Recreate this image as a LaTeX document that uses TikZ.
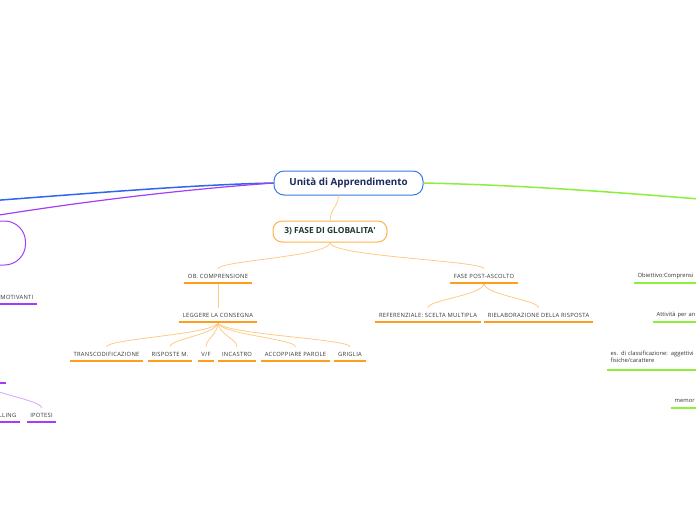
\documentclass[tikz,border=0pt]{standalone}
\usepackage{fontspec}
\setmainfont{Open Sans}
\usetikzlibrary{positioning, calc}

\definecolor{rootblue}{HTML}{3A78E2}
\definecolor{linkblue}{HTML}{2F66F0}
\definecolor{navy}{HTML}{1C2B5C}
\definecolor{orng}{HTML}{FF9E1E}
\definecolor{orngl}{HTML}{FFCA85}
\definecolor{leafgreen}{HTML}{8CEF3A}
\definecolor{violet}{HTML}{A63DF6}
\definecolor{violetl}{HTML}{D9A3FF}
\definecolor{pine}{HTML}{1F3A2C}

\begin{document}
\begin{tikzpicture}[
  x=1pt, y=-1pt,
  root/.style  = {draw=rootblue, fill=white, line width=1pt, rounded corners=10pt,
                  minimum width=149pt, minimum height=24pt, inner sep=0pt,
                  font=\fontsize{9.8}{11}\selectfont\bfseries, text=navy},
  phase/.style = {draw=orng!80, fill=white, line width=1pt, rounded corners=9pt,
                  minimum width=114pt, minimum height=21pt, inner sep=0pt,
                  font=\fontsize{8.4}{9}\selectfont\bfseries, text=pine},
  leaf/.style  = {font=\fontsize{5.8}{7}\selectfont\addfontfeature{LetterSpace=5},
                  text=black!80, inner xsep=3.5pt, inner ysep=0pt, minimum height=14pt},
  gleaf/.style = {leaf, font=\fontsize{5.8}{7.2}\selectfont, text width=100pt,
                  align=left, anchor=west},
  vbox/.style  = {draw=violet, line width=1pt, rounded corners=21pt,
                  minimum width=120pt, minimum height=44pt},
  oline/.style = {draw=orng, line width=2pt},
  vline/.style = {draw=violet, line width=2pt},
  gline/.style = {draw=leafgreen, line width=2pt},
  olink/.style = {draw=orngl, line width=0.8pt},
  vlink/.style = {draw=violetl, line width=0.8pt},
]
  \useasboundingbox (0,0) rectangle (696,520);
  \clip (0,0) rectangle (696,520);

  % main branches
  \node[root] (root) at (348.5,183) {Unità di Apprendimento};
  \coordinate (blueEnd)  at (-80,206);
  \coordinate (greenEnd) at (770,205);
  \node[vbox, anchor=east] (motiv) at (26,243) {};

  \draw[linkblue, line width=1.5pt] (root.west) .. controls (180,185) and (60,196) .. (blueEnd);
  \draw[violet, line width=1.2pt] (root.west) .. controls (150,192) and (40,208) .. (motiv.north);
  \draw[leafgreen, line width=1.5pt] (root.east) .. controls (520,185) and (620,192) .. (greenEnd);

  % orange branch
  \node[phase] (glob) at (330,231.5) {3) FASE DI GLOBALITA\textquotesingle};

  \node[leaf] (obc)  at (218,276) {OB. COMPRENSIONE};
  \node[leaf] (post) at (484,276) {FASE POST-ASCOLTO};
  \node[leaf] (legg) at (218,315) {LEGGERE LA CONSEGNA};
  \node[leaf] (ref)  at (428,315) {REFERENZIALE: SCELTA MULTIPLA};
  \node[leaf] (riel) at (538.5,315) {RIELABORAZIONE DELLA RISPOSTA};

  \node[leaf] (trans) at (106.5,354) {TRANSCODIFICAZIONE};
  \node[leaf] (risp)  at (170,354)   {RISPOSTE M.};
  \node[leaf] (vf)    at (206,354)   {V/F};
  \node[leaf] (inc)   at (237,354)   {INCASTRO};
  \node[leaf] (acc)   at (295.5,354) {ACCOPPIARE PAROLE};
  \node[leaf] (grig)  at (350,354)   {GRIGLIA};

  \draw[olink] ([xshift=-10pt]root.south) .. controls +(0,10) and +(0,-10) .. (glob.north);
  \draw[olink] (glob.south) .. controls +(0,14) and +(0,-8) .. (obc.north);
  \draw[olink] (glob.south) .. controls +(0,14) and +(0,-8) .. (post.north);
  \draw[olink] (obc.south) -- (legg.north);
  \foreach \c in {trans, risp, vf, inc, acc, grig}
    \draw[olink] (legg.south) .. controls +(0,12) and +(0,-8) .. (\c.north);
  \foreach \c in {ref, riel}
    \draw[olink] (post.south) .. controls +(0,12) and +(0,-8) .. (\c.north);

  \foreach \n in {obc, post, legg, ref, riel, trans, risp, vf, inc, acc, grig}
    \draw[oline] (\n.south west) -- (\n.south east);

  % violet branch
  \node[leaf, text width=60pt, align=right, anchor=east] (motivanti) at (37,297) {MOTIVANTI};
  \node[leaf, minimum width=40pt, anchor=east] (hyp) at (6,376) {};
  \node[leaf, text width=40pt, align=right, anchor=east] (lling) at (20,415) {LLING};
  \node[leaf] (ipotesi) at (41.5,415) {IPOTESI};

  \draw[vlink] (hyp.south) .. controls +(0,10) and +(0,-8) .. (lling.north);
  \draw[vlink] (hyp.south) .. controls +(0,10) and +(0,-8) .. (ipotesi.north);

  \foreach \n in {motivanti, hyp, lling, ipotesi}
    \draw[vline] (\n.south west) -- (\n.south east);

  % green branch
  \node[gleaf] (obiet) at (634,276) {Obiettivo:Comprensi};
  \node[gleaf] (attiv) at (653,315) {Attività per an};
  \node[gleaf, minimum height=26pt] (esclass) at (607,357)
    {es. di classificazione: aggettivi\\fisiche/carattere};
  \node[gleaf] (memor) at (671,401) {memor};

  \foreach \n in {obiet, attiv, esclass, memor}
    \draw[gline] (\n.south west) -- (\n.south east);
\end{tikzpicture}
\end{document}
